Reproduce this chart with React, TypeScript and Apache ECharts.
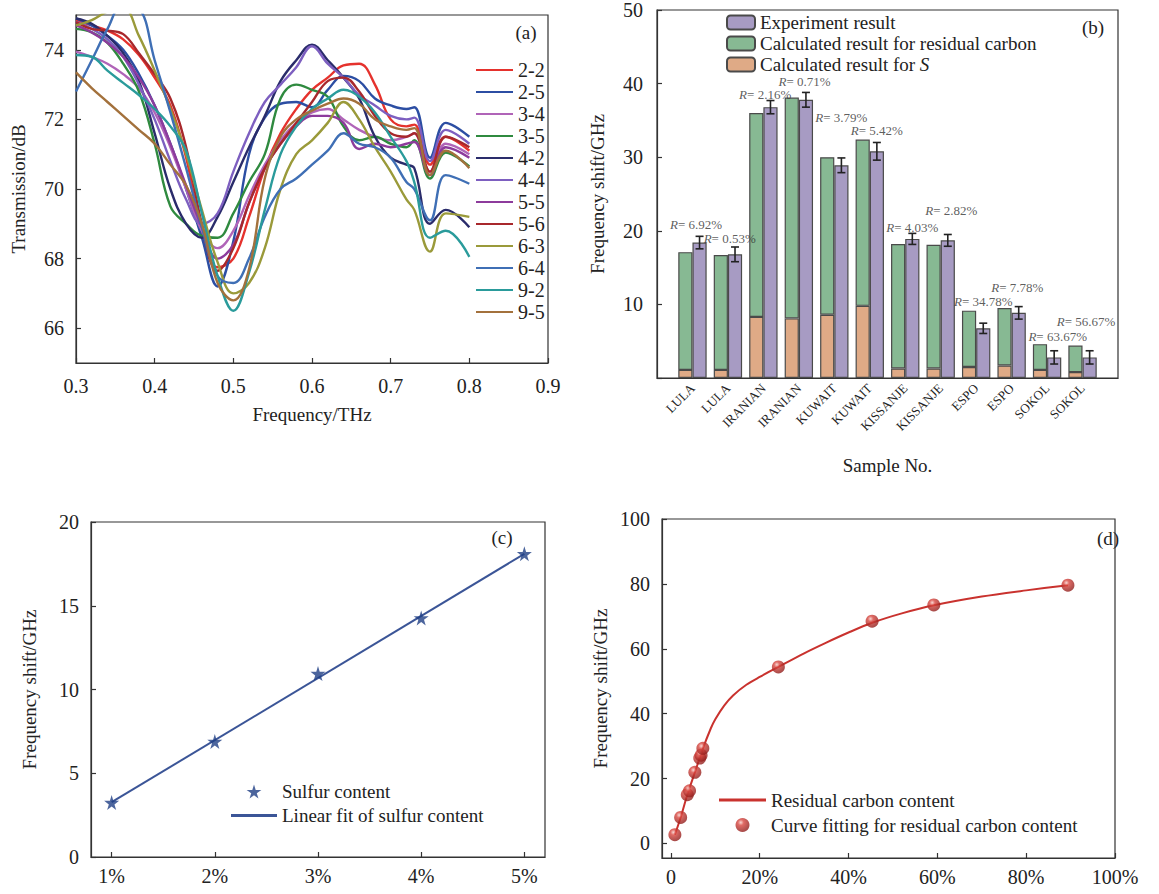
import React, { useEffect, useRef } from 'react';
import * as echarts from 'echarts';

const FONT = '"Liberation Serif", "Times New Roman", serif';
const INK = '#222';
const AXIS = '#333';

// ---------- (a) transmission spectra ----------
const freqTHz = [0.3, 0.32, 0.34, 0.36, 0.38, 0.4, 0.42, 0.44, 0.46, 0.48, 0.5, 0.52, 0.54, 0.56, 0.58, 0.6, 0.62, 0.64, 0.66, 0.68, 0.7, 0.72, 0.73, 0.75, 0.77, 0.8];
const sampleNames = ['2-2', '2-5', '3-4', '3-5', '4-2', '4-4', '5-5', '5-6', '6-3', '6-4', '9-2', '9-5'];
const sampleColors = ['#e5322d', '#2c4ea3', '#b064b8', '#2f8a3f', '#2a2c6b', '#7d5fc0', '#8d3b9c', '#a8282c', '#9a9a3a', '#3f6fb5', '#2a9b9b', '#a3713c'];
const trans22 = [74.85, 74.7, 74.55, 74.3, 73.85, 73.2, 72.4, 70.9, 68.8, 67.75, 68.0, 69.2, 70.6, 71.6, 72.3, 72.85, 73.2, 73.55, 73.6, 73.0, 72.0, 71.8, 71.85, 70.7, 71.5, 71.1];
const trans25 = [74.9, 74.7, 74.4, 74.0, 73.3, 72.4, 71.3, 70.0, 68.6, 67.2, 68.5, 71.0, 72.05, 72.45, 72.5, 72.35, 72.85, 73.25, 73.1, 72.6, 72.4, 72.3, 72.35, 70.9, 71.9, 71.5];
const trans34 = [73.95, 73.8, 73.6, 73.3, 72.9, 72.2, 71.2, 70.0, 68.8, 68.3, 68.8, 69.8, 70.7, 71.4, 71.9, 72.2, 72.3, 72.0, 71.7, 71.5, 71.4, 71.5, 71.6, 70.5, 71.3, 71.0];
const trans35 = [74.6, 74.5, 74.2, 73.6, 72.8, 71.3, 69.5, 69.0, 68.65, 68.6, 69.3, 70.2, 71.0, 72.6, 73.0, 72.85, 72.65, 71.8, 71.4, 71.5, 71.3, 71.2, 71.4, 70.3, 71.05, 70.65];
const trans42 = [74.9, 74.75, 74.4, 73.9, 73.1, 71.6, 70.0, 69.0, 68.6, 69.2, 70.2, 71.2, 72.1, 73.1, 73.7, 74.15, 73.7, 73.2, 72.6, 71.5, 70.9, 70.7, 70.6, 69.0, 69.4, 68.9];
const trans44 = [74.8, 74.6, 74.3, 73.8, 73.0, 72.0, 70.8, 69.7, 69.0, 69.3, 70.5, 71.6, 72.5, 73.0, 73.5, 74.1, 73.6, 73.2, 72.7, 72.4, 72.1, 72.0, 72.05, 70.8, 71.7, 71.3];
const trans55 = [74.7, 74.5, 74.2, 73.8, 73.2, 72.4, 71.3, 70.1, 68.9, 68.0, 68.4, 69.6, 70.6, 71.3, 71.8, 72.1, 72.1, 71.9, 71.15, 71.3, 71.2, 71.3, 71.35, 70.4, 71.2, 70.9];
const trans56 = [74.8, 74.6, 74.55, 74.45, 73.9, 73.3, 72.6, 71.2, 69.0, 67.65, 68.3, 69.6, 70.6, 71.3, 71.9, 72.5, 73.1, 73.2, 72.8, 72.1, 71.6, 71.5, 71.6, 70.5, 71.5, 71.2];
const trans63 = [74.7, 74.85, 75.1, 75.2, 74.4, 73.4, 72.3, 71.0, 69.4, 67.9, 67.0, 67.3, 68.3, 70.0, 71.0, 71.4, 71.9, 72.5, 72.0, 71.2, 70.5, 69.7, 69.4, 68.2, 69.3, 69.2];
const trans64 = [72.8, 73.7, 74.6, 75.3, 75.2, 73.7, 72.2, 70.6, 68.9, 67.5, 67.3, 68.0, 69.2, 70.0, 70.3, 70.7, 71.1, 71.6, 71.3, 71.2, 70.9, 70.2, 70.0, 69.1, 70.4, 70.15];
const trans92 = [73.85, 73.8, 73.4, 73.05, 72.7, 72.3, 71.8, 71.1, 69.3, 67.5, 66.5, 67.6, 69.4, 71.0, 71.8, 72.3, 72.6, 72.85, 72.65, 72.2, 71.5, 70.8, 70.2, 68.6, 68.8, 68.05];
const trans95 = [73.35, 72.9, 72.5, 72.1, 71.7, 71.3, 70.7, 70.1, 69.0, 67.3, 66.8, 67.7, 70.3, 71.5, 72.0, 72.25, 72.45, 72.6, 72.45, 72.0, 71.8, 71.7, 71.75, 70.4, 71.1, 70.6];
const transmission = [trans22, trans25, trans34, trans35, trans42, trans44, trans55, trans56, trans63, trans64, trans92, trans95];
const transTicks = [66, 68, 70, 72, 74];

// ---------- (b) frequency shift by sample ----------
const oilSamples = ['LULA', 'LULA', 'IRANIAN', 'IRANIAN', 'KUWAIT', 'KUWAIT', 'KISSANJE', 'KISSANJE', 'ESPO', 'ESPO', 'SOKOL', 'SOKOL'];
const calcSulfur = [1.1, 1.1, 8.3, 8.1, 8.6, 9.8, 1.3, 1.3, 1.5, 1.7, 1.1, 0.8];
const calcCarbon = [16.0, 15.6, 27.7, 30.0, 21.4, 22.6, 16.9, 16.8, 7.65, 7.8, 3.5, 3.6];
const experiment = [18.4, 16.8, 36.8, 37.8, 28.9, 30.8, 18.9, 18.7, 6.75, 8.85, 2.8, 2.8];
const experimentErr = [0.85, 1.0, 0.9, 1.0, 1.0, 1.2, 0.75, 0.8, 0.7, 0.85, 0.9, 0.9];
const rLabelText = ['6.92%', '0.53%', '2.16%', '0.71%', '3.79%', '5.42%', '4.03%', '2.82%', '34.78%', '7.78%', '63.67%', '56.67%'];
const rLabelX = [1.1, 2.05, 3.05, 4.16, 5.2, 6.2, 7.2, 8.3, 9.2, 10.16, 11.3, 12.1];
const rLabelY = [20.9, 19.0, 38.5, 40.3, 35.4, 33.6, 20.5, 22.7, 10.4, 12.3, 5.7, 7.7];

// ---------- (c) sulfur content ----------
const sulfurPct = [1, 2, 3, 4, 5];
const sulfurShift = [3.25, 6.9, 10.95, 14.27, 18.1];
const sulfurFitX = [1, 5];
const sulfurFitY = [3.27, 18.1];

// ---------- (d) residual carbon ----------
const carbonPct = [0.9, 2.2, 3.7, 4.2, 5.4, 6.5, 6.8, 7.2, 24.2, 45.3, 59.2, 89.4];
const carbonShift = [2.7, 8.0, 15.0, 16.2, 21.9, 26.3, 27.2, 29.3, 54.4, 68.5, 73.5, 79.6];
const carbonCurveX = [0.9, 2.2, 3.7, 5.4, 7.2, 9, 10, 12, 14, 17, 20, 24.2, 30, 35, 40, 45.3, 52, 59.2, 70, 80, 89.4];
const carbonCurveY = [2.7, 8.0, 15.0, 21.9, 29.2, 35.5, 38.3, 42.5, 45.6, 48.9, 51.3, 54.4, 58.6, 61.9, 65.0, 68.0, 70.9, 73.4, 76.1, 78.0, 79.6];

const STAR = 'path://M50,0L61,35L98,35L68,57L79,91L50,70L21,91L32,57L2,35L39,35Z';
const LINE_ICON = 'path://M0,0L100,0L100,6L0,6Z';

function axisBase(extra: any = {}) {
  return {
    axisLine: { show: true, onZero: false, lineStyle: { color: AXIS, width: 1.2 } },
    axisTick: { show: true, inside: true, length: 5, lineStyle: { color: AXIS, width: 1.2 }, ...(extra.axisTick || {}) },
    axisLabel: { color: INK, fontFamily: FONT, fontSize: 20, margin: 12, ...(extra.axisLabel || {}) },
    splitLine: { show: false },
    nameTextStyle: { color: INK, fontFamily: FONT, fontSize: 19 },
    ...Object.fromEntries(Object.entries(extra).filter(([k]) => k !== 'axisTick' && k !== 'axisLabel')),
  };
}

export default function App() {
  const ref = useRef<HTMLDivElement>(null);
  useEffect(() => {
    if (!ref.current) return;
    const chart = echarts.init(ref.current, undefined, { renderer: 'svg' });

    const padCat = (arr: any[]) => ['-', ...arr, '-'];
    const catData = ['', ...oilSamples, ''];

    const seriesA = sampleNames.map((n, k) => ({
      type: 'line',
      name: n,
      xAxisIndex: 0,
      yAxisIndex: 0,
      data: freqTHz.map((f, i) => [f, transmission[k][i]]),
      smooth: 0.4,
      symbol: 'none',
      clip: true,
      lineStyle: { width: 2.4, color: sampleColors[k] },
      itemStyle: { color: sampleColors[k] },
    }));

    const barBorder = { borderColor: '#4a4a4a', borderWidth: 1.2 };

    const option: any = {
      animation: false,
      backgroundColor: '#fff',
      textStyle: { fontFamily: FONT },
      grid: [
        { left: 76, top: 15, width: 472, height: 348, show: true, borderColor: AXIS, borderWidth: 1.2 },
        { left: 657, top: 10, width: 461, height: 368, show: true, borderColor: AXIS, borderWidth: 1.2 },
        { left: 91, top: 522, width: 454, height: 335, show: true, borderColor: AXIS, borderWidth: 1.2 },
        { left: 662, top: 519, width: 453, height: 339, show: true, borderColor: AXIS, borderWidth: 1.2 },
      ],
      xAxis: [
        axisBase({
          type: 'value', gridIndex: 0, min: 0.3, max: 0.9, interval: 0.1,
          name: 'Frequency/THz', nameLocation: 'middle', nameGap: 42,
          axisLabel: { formatter: (v: number) => v.toFixed(1), margin: 13 },
        }),
        axisBase({
          type: 'category', gridIndex: 1, data: catData, boundaryGap: false,
          name: 'Sample No.', nameLocation: 'middle', nameGap: 78,
          axisTick: { show: false },
          axisLabel: { rotate: 45, fontSize: 13, margin: 8, interval: 0 },
        }),
        { type: 'value', gridIndex: 1, min: 0, max: 13, show: false },
        axisBase({
          type: 'value', gridIndex: 2, min: 0.8, max: 5.2,
          axisLabel: { customValues: sulfurPct, formatter: (v: number) => `${v}%`, margin: 9 },
          axisTick: { customValues: sulfurPct },
        }),
        axisBase({
          type: 'value', gridIndex: 3, min: -2, max: 100,
          axisLabel: { customValues: [0, 20, 40, 60, 80, 100], formatter: (v: number) => (v === 0 ? '0' : `${v}%`), margin: 9 },
          axisTick: { customValues: [0, 20, 40, 60, 80, 100] },
        }),
      ],
      yAxis: [
        axisBase({
          type: 'value', gridIndex: 0, min: 65, max: 75,
          name: 'Transmission/dB', nameLocation: 'middle', nameGap: 48,
          axisLabel: { customValues: transTicks },
          axisTick: { customValues: transTicks },
        }),
        axisBase({
          type: 'value', gridIndex: 1, min: 0, max: 50, interval: 10,
          name: 'Frequency shift/GHz', nameLocation: 'middle', nameGap: 50,
          axisLabel: { formatter: (v: number) => (v === 0 ? '' : String(v)), margin: 14 },
        }),
        axisBase({
          type: 'value', gridIndex: 2, min: 0, max: 20, interval: 5,
          name: 'Frequency shift/GHz', nameLocation: 'middle', nameGap: 52,
        }),
        axisBase({
          type: 'value', gridIndex: 3, min: -4.5, max: 100,
          name: 'Frequency shift/GHz', nameLocation: 'middle', nameGap: 52,
          axisLabel: { customValues: [0, 20, 40, 60, 80, 100] },
          axisTick: { customValues: [0, 20, 40, 60, 80, 100] },
        }),
      ],
      legend: [
        {
          data: sampleNames.map((n) => ({ name: n, icon: LINE_ICON })),
          orient: 'vertical', left: 476, top: 60, padding: 0,
          itemWidth: 37, itemHeight: 14, itemGap: 2,
          textStyle: { color: INK, fontFamily: FONT, fontSize: 20, lineHeight: 20 },
        },
        {
          data: ['Experiment result', 'Calculated result for residual carbon', 'Calculated result for S'],
          orient: 'vertical', left: 726, top: 13, padding: 0,
          itemWidth: 28, itemHeight: 14, itemGap: 2,
          formatter: (name: string) => (name === 'Calculated result for S' ? 'Calculated result for {i|S}' : name),
          textStyle: {
            color: INK, fontFamily: FONT, fontSize: 19, lineHeight: 19,
            rich: { i: { fontStyle: 'italic', fontFamily: FONT, fontSize: 19, color: INK } },
          },
        },
        {
          data: [{ name: 'Sulfur content', icon: STAR }, { name: 'Linear fit of sulfur content', icon: LINE_ICON }],
          orient: 'vertical', left: 231, top: 781, padding: 0,
          itemWidth: 46, itemHeight: 14, itemGap: 3,
          textStyle: { color: INK, fontFamily: FONT, fontSize: 19, lineHeight: 21 },
        },
        {
          data: [{ name: 'Residual carbon content', icon: LINE_ICON }, { name: 'Curve fitting for residual carbon content', icon: 'circle' }],
          orient: 'vertical', left: 719, top: 789, padding: 0,
          itemWidth: 47, itemHeight: 14, itemGap: 3,
          textStyle: { color: INK, fontFamily: FONT, fontSize: 19, lineHeight: 22 },
        },
      ],
      graphic: [
        { type: 'text', x: 526, y: 32, style: { text: '(a)', font: `19px ${FONT}`, fill: INK, align: 'center', verticalAlign: 'middle' } },
        { type: 'text', x: 1093, y: 27, style: { text: '(b)', font: `19px ${FONT}`, fill: INK, align: 'center', verticalAlign: 'middle' } },
        { type: 'text', x: 502, y: 537, style: { text: '(c)', font: `19px ${FONT}`, fill: INK, align: 'center', verticalAlign: 'middle' } },
        { type: 'text', x: 1108, y: 538, style: { text: '(d)', font: `19px ${FONT}`, fill: INK, align: 'center', verticalAlign: 'middle' } },
      ],
      series: [
        ...seriesA,
        {
          type: 'bar', name: 'Calculated result for S', xAxisIndex: 1, yAxisIndex: 1, stack: 'calc',
          data: padCat(calcSulfur), barWidth: '40%', barGap: '0%',
          itemStyle: { color: '#dfaa86', ...barBorder },
        },
        {
          type: 'bar', name: 'Calculated result for residual carbon', xAxisIndex: 1, yAxisIndex: 1, stack: 'calc',
          data: padCat(calcCarbon), barWidth: '40%', barGap: '0%',
          itemStyle: { color: '#87b993', ...barBorder },
        },
        {
          type: 'bar', name: 'Experiment result', xAxisIndex: 1, yAxisIndex: 1,
          data: padCat(experiment), barWidth: '40%', barGap: '0%',
          itemStyle: { color: '#a79bc3', ...barBorder },
        },
        {
          type: 'custom', name: 'error', xAxisIndex: 2, yAxisIndex: 1, z: 5,
          data: experiment.map((v, i) => [i + 1.2, v, experimentErr[i]]),
          renderItem: (params: any, api: any) => {
            const x = api.value(0), y = api.value(1), e = api.value(2);
            const t = api.coord([x, y + e]);
            const b = api.coord([x, y - e]);
            const hw = 4;
            const st = { stroke: '#222', lineWidth: 1.6 };
            return {
              type: 'group',
              children: [
                { type: 'line', shape: { x1: t[0], y1: t[1], x2: b[0], y2: b[1] }, style: st },
                { type: 'line', shape: { x1: t[0] - hw, y1: t[1], x2: t[0] + hw, y2: t[1] }, style: st },
                { type: 'line', shape: { x1: b[0] - hw, y1: b[1], x2: b[0] + hw, y2: b[1] }, style: st },
              ],
            };
          },
        },
        {
          type: 'scatter', name: 'R', xAxisIndex: 2, yAxisIndex: 1, symbolSize: 0, z: 6,
          data: rLabelX.map((x, i) => [x, rLabelY[i]]),
          label: {
            show: true, position: 'inside', color: '#333', fontFamily: FONT, fontSize: 13,
            formatter: (p: any) => `{i|R}= ${rLabelText[p.dataIndex]}`,
            rich: { i: { fontStyle: 'italic', fontFamily: FONT, fontSize: 13, color: '#333' } },
          },
        },
        {
          type: 'line', name: 'Linear fit of sulfur content', xAxisIndex: 3, yAxisIndex: 2,
          data: sulfurFitX.map((x, i) => [x, sulfurFitY[i]]), symbol: 'none',
          lineStyle: { color: '#3b5597', width: 2 }, itemStyle: { color: '#3b5597' },
        },
        {
          type: 'scatter', name: 'Sulfur content', xAxisIndex: 3, yAxisIndex: 2, z: 4,
          data: sulfurPct.map((x, i) => [x, sulfurShift[i]]), symbol: STAR, symbolSize: 15,
          itemStyle: { color: '#1f3f85' },
        },
        {
          type: 'line', name: 'Residual carbon content', xAxisIndex: 4, yAxisIndex: 3,
          data: carbonCurveX.map((x, i) => [x, carbonCurveY[i]]), symbol: 'none', smooth: 0.3,
          lineStyle: { color: '#c9322e', width: 2 }, itemStyle: { color: '#c9322e' },
        },
        {
          type: 'scatter', name: 'Curve fitting for residual carbon content', xAxisIndex: 4, yAxisIndex: 3, z: 4,
          data: carbonPct.map((x, i) => [x, carbonShift[i]]), symbol: 'circle', symbolSize: 13,
          itemStyle: {
            color: {
              type: 'radial', x: 0.38, y: 0.32, r: 0.7,
              colorStops: [
                { offset: 0, color: '#f6cdc8' },
                { offset: 0.3, color: '#d8463f' },
                { offset: 1, color: '#8e1c1a' },
              ],
            },
          },
        },
      ],
    };

    chart.setOption(option);
    return () => chart.dispose();
  }, []);

  return <div ref={ref} style={{ position: 'fixed', left: 0, top: 0, width: 1159, height: 894, background: '#fff' }} />;
}
